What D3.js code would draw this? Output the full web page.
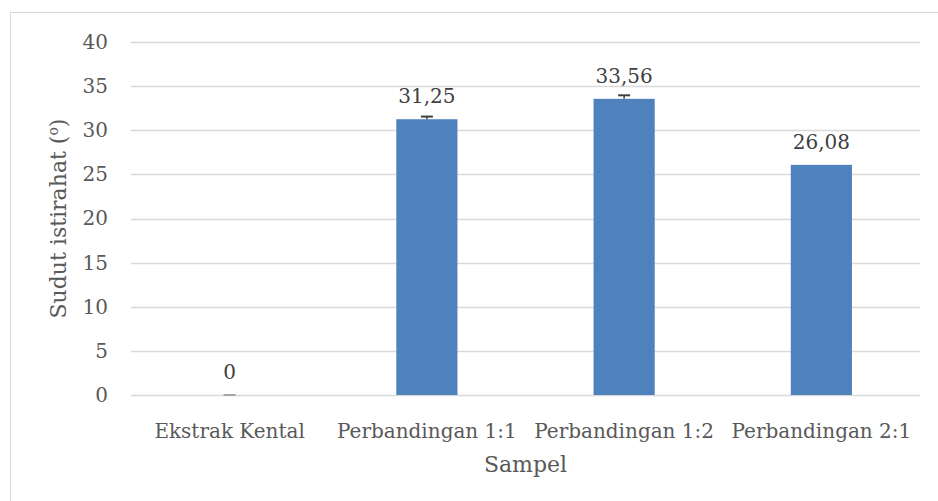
<!DOCTYPE html>
<html>
<head>
<meta charset="utf-8">
<script src="https://cdn.jsdelivr.net/npm/d3@7"></script>
<style>
  body { margin: 0; background: #fff; }
</style>
</head>
<body>
<div id="chart"></div>
<script>
// Data
var categories = ['Ekstrak Kental', 'Perbandingan 1:1', 'Perbandingan 1:2', 'Perbandingan 2:1']
var values = [0, 31.25, 33.56, 26.08]
var errors = [0, 0.3, 0.4, 0]
var labels = ['0', '31,25', '33,56', '26,08']
var yTicks = [0, 5, 10, 15, 20, 25, 30, 35, 40]

// Settings
var width = 938, height = 501
var font = 'DejaVu Serif, serif'
var textColor = '#595959'
var margin = {left: 131, right: 18, top: 42, bottom: 106}

var svg = d3.select('#chart').append('svg')
  .attr('width', width)
  .attr('height', height)

// Chart border
svg.append('rect')
  .attr('x', 10.5).attr('y', 12.5)
  .attr('width', width).attr('height', height)
  .attr('fill', 'none')
  .attr('stroke', '#d9d9d9')

var x = d3.scaleBand()
  .domain(categories)
  .range([margin.left, width - margin.right])
  .paddingInner(0.69)
  .paddingOuter(0.345)

var y = d3.scaleLinear()
  .domain([0, 40])
  .range([height - margin.bottom, margin.top])

// Gridlines
svg.append('g')
  .selectAll('line')
  .data(yTicks)
  .join('line')
  .attr('x1', margin.left)
  .attr('x2', width - margin.right)
  .attr('y1', function(d){ return Math.round(y(d)) + 0.5 })
  .attr('y2', function(d){ return Math.round(y(d)) + 0.5 })
  .attr('stroke', '#d9d9d9')
  .attr('stroke-width', 1.5)

// Y axis labels
var yAxis = svg.append('g')
  .attr('transform', 'translate(' + (margin.left - 8) + ',0)')
  .call(d3.axisLeft(y).tickValues(yTicks).tickSize(0).tickPadding(15))
yAxis.select('.domain').remove()
yAxis.selectAll('text')
  .attr('font-family', font)
  .attr('font-size', 20)
  .attr('fill', textColor)

// X axis labels
var xAxis = svg.append('g')
  .attr('transform', 'translate(0,' + (height - margin.bottom) + ')')
  .call(d3.axisBottom(x).tickSize(0).tickPadding(29))
xAxis.select('.domain').remove()
xAxis.selectAll('text')
  .attr('font-family', font)
  .attr('font-size', 20)
  .attr('fill', textColor)

// Bars
svg.append('g')
  .selectAll('rect')
  .data(values)
  .join('rect')
  .attr('x', function(d, i){ return x(categories[i]) })
  .attr('y', function(d){ return y(d) })
  .attr('width', x.bandwidth())
  .attr('height', function(d){ return y(0) - y(d) })
  .attr('fill', '#4f81bd')

// Error bars
var eb = svg.append('g')
values.forEach(function(v, i){
  if (i === 3) return
  var cx = x(categories[i]) + x.bandwidth() / 2
  var top = y(v + errors[i])
  eb.append('line')
    .attr('x1', cx).attr('x2', cx)
    .attr('y1', y(v)).attr('y2', top)
    .attr('stroke', '#404040').attr('stroke-width', 1.5)
  eb.append('line')
    .attr('x1', cx - 6).attr('x2', cx + 6)
    .attr('y1', top).attr('y2', top)
    .attr('stroke', i === 0 ? '#a6a6a6' : '#404040').attr('stroke-width', 2)
})

// Data labels
svg.append('g')
  .selectAll('text')
  .data(labels)
  .join('text')
  .attr('x', function(d, i){ return x(categories[i]) + x.bandwidth() / 2 })
  .attr('y', function(d, i){ return y(values[i]) - 16 })
  .attr('text-anchor', 'middle')
  .attr('font-family', font)
  .attr('font-size', 20)
  .attr('fill', '#404040')
  .text(function(d){ return d })

// Axis titles
svg.append('text')
  .attr('x', (margin.left + width - margin.right) / 2)
  .attr('y', 472)
  .attr('text-anchor', 'middle')
  .attr('font-family', font)
  .attr('font-size', 22)
  .attr('fill', textColor)
  .text('Sampel')

var yt = svg.append('text')
  .attr('transform', 'translate(66,' + ((margin.top + height - margin.bottom) / 2) + ') rotate(-90)')
  .attr('text-anchor', 'middle')
  .attr('font-family', font)
  .attr('font-size', 22)
  .attr('fill', textColor)
yt.append('tspan').text('Sudut istirahat (')
yt.append('tspan').attr('font-size', 14).attr('dy', -8).text('o')
yt.append('tspan').attr('dy', 8).text(')')
</script>
</body>
</html>
